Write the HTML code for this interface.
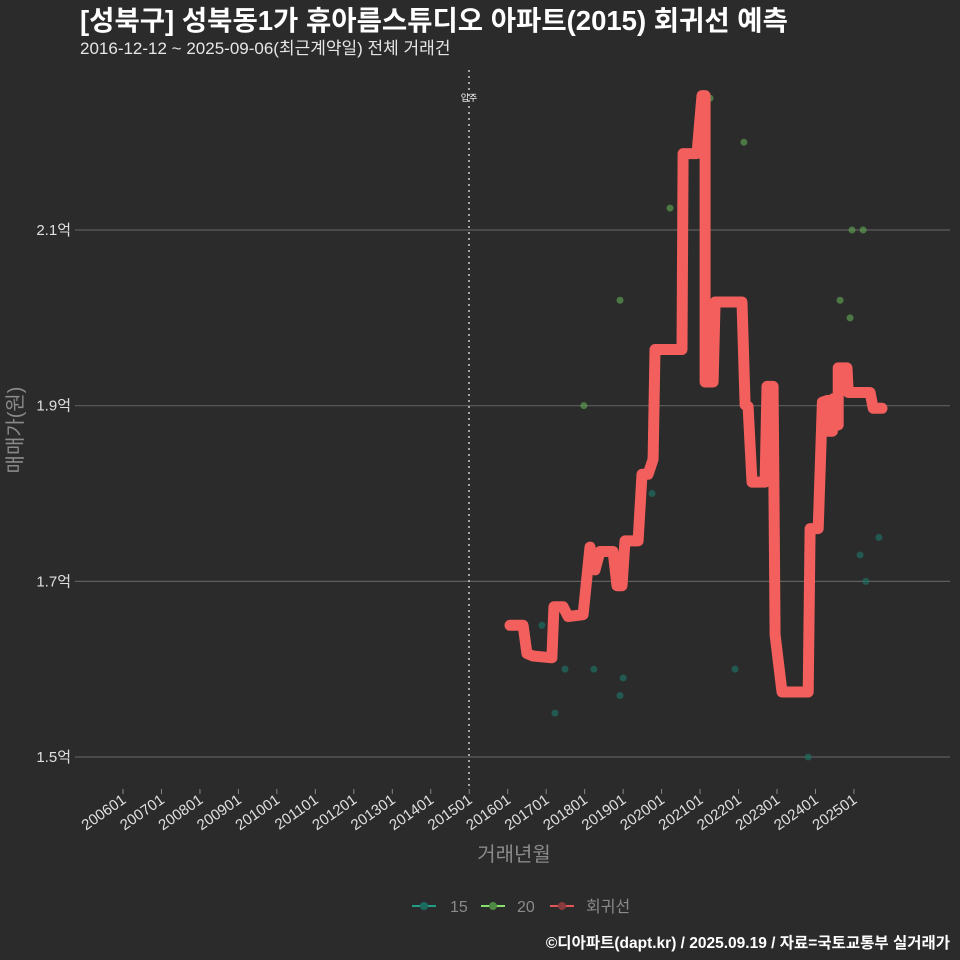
<!DOCTYPE html>
<html><head><meta charset="utf-8">
<style>
html,body{margin:0;padding:0;background:#2b2b2b;}
svg{display:block;font-family:"Liberation Sans","Noto Sans CJK KR",sans-serif;}
</style></head>
<body>
<svg id="chart" width="960" height="960" viewBox="0 0 960 960">
<rect width="960" height="960" fill="#2b2b2b"/>
<text x="80" y="30" fill="#ffffff" font-size="27.5" font-weight="bold">[성북구] 성북동1가 휴아름스튜디오 아파트(2015) 회귀선 예측</text>
<text x="80" y="54" fill="#e6e6e6" font-size="17">2016-12-12 ~ 2025-09-06(최근계약일) 전체 거래건</text>
<g id="grid"></g>
<g id="yaxis"></g>
<g id="xaxis"></g>
<line x1="469" y1="70" x2="469" y2="790" stroke="#cccccc" stroke-width="1.5" stroke-dasharray="2,4"/>
<text x="469" y="101" fill="#ffffff" font-size="9" text-anchor="middle">입주</text>
<g id="points"></g>
<g id="line"></g>
<text transform="translate(22,430) rotate(-90)" fill="#8a8a8a" font-size="20" text-anchor="middle">매매가(원)</text>
<text x="514" y="861" fill="#8a8a8a" font-size="20" text-anchor="middle">거래년월</text>
<g>
<g>
<line x1="412" y1="906" x2="436" y2="906" stroke="#1f9e89" stroke-width="2"/><circle cx="424" cy="906" r="4" fill="#1b6b5e"/>
<text x="450" y="912" fill="#8a8a8a" font-size="16">15</text></g>
<g>
<line x1="481" y1="906" x2="505" y2="906" stroke="#86e06e" stroke-width="2"/><circle cx="493" cy="906" r="4" fill="#4f8a45"/>
<text x="517" y="912" fill="#8a8a8a" font-size="16">20</text></g>
<g>
<line x1="550" y1="906" x2="574" y2="906" stroke="#e05555" stroke-width="2"/><circle cx="562" cy="906" r="4" fill="#8a3a3a"/>
<text x="586" y="912" fill="#8a8a8a" font-size="16">회귀선</text></g>
</g>
<text x="950" y="948" fill="#ffffff" font-size="15.5" font-weight="bold" text-anchor="end">©디아파트(dapt.kr) / 2025.09.19 / 자료=국토교통부 실거래가</text>
</svg>
<script>
const yTicks = [1.5, 1.7, 1.9, 2.1];
const xTickLabels = ["200601","200701","200801","200901","201001","201101","201201","201301","201401","201501","201601","201701","201801","201901","202001","202101","202201","202301","202401","202501"];
const lineDates = [2016.06,2016.40,2016.50,2016.66,2017.15,2017.20,2017.44,2017.57,2017.96,2018.14,2018.27,2018.40,2018.74,2018.84,2018.97,2019.05,2019.39,2019.49,2019.65,2019.78,2019.83,2020.53,2020.56,2020.92,2021.05,2021.13,2021.13,2021.34,2021.39,2022.09,2022.17,2022.25,2022.35,2022.69,2022.74,2022.90,2022.95,2023.13,2023.81,2023.86,2024.07,2024.18,2024.31,2024.33,2024.44,2024.46,2024.59,2024.59,2024.82,2024.85,2025.42,2025.50,2025.73];
const lineValues = [1.650,1.650,1.618,1.615,1.613,1.671,1.671,1.660,1.662,1.739,1.713,1.734,1.734,1.695,1.695,1.746,1.746,1.822,1.822,1.839,1.964,1.964,2.187,2.187,2.253,2.253,1.927,1.927,2.018,2.018,1.901,1.899,1.813,1.813,1.922,1.922,1.639,1.574,1.574,1.760,1.760,1.904,1.906,1.871,1.871,1.908,1.878,1.943,1.943,1.915,1.915,1.897,1.897];
const s20Dates = [2021.26,2022.14,2020.22,2018.92,2017.98,2024.95,2025.24,2024.64,2024.90];
const s20Values = [2.250,2.200,2.125,2.020,1.900,2.100,2.100,2.020,2.000];
const s15Dates = [2016.89,2017.49,2018.24,2017.23,2019.00,2018.92,2019.75,2021.91,2023.81,2025.16,2025.65,2025.31];
const s15Values = [1.650,1.600,1.600,1.550,1.590,1.570,1.800,1.600,1.500,1.730,1.750,1.700];

const NS = "http://www.w3.org/2000/svg";
function xs(d){ return 123 + (d - 2006) * 38.47; }
function ys(v){ return 757 - (v - 1.5) * 878.3; }
function mk(tag, attrs, parent){ const e=document.createElementNS(NS,tag); for(const k in attrs) e.setAttribute(k,attrs[k]); parent.appendChild(e); return e; }

const grid=document.getElementById('grid'), yax=document.getElementById('yaxis'), xax=document.getElementById('xaxis');
yTicks.forEach(v=>{
  const l=mk('line',{x1:75,x2:950,y1:ys(v),y2:ys(v),stroke:'#5e5e5e','stroke-width':1.2},grid);
  
  
  const t=mk('text',{x:71,y:ys(v)+5,fill:'#e0e0e0','font-size':15,'text-anchor':'end'},yax);
  t.textContent=v.toFixed(1)+'억';
  
  
});
xTickLabels.forEach(lab=>{
  const yr=parseInt(lab.slice(0,4)), m=parseInt(lab.slice(4));
  const x=xs(yr+(m-1)/12);
  const tk=mk('line',{x1:x,x2:x,y1:789,y2:794,stroke:'#888','stroke-width':1},xax);
  
  
  const t=mk('text',{x:x+4,y:802,fill:'#e0e0e0','font-size':15,'text-anchor':'end',transform:`rotate(-35 ${x+4} 802)`},xax);
  t.textContent=lab;
  
  
});
const pg=document.getElementById('points');
s15Dates.forEach((d,i)=>{
  const c=mk('circle',{cx:xs(d),cy:ys(s15Values[i]),r:3.5,fill:'#1f6e62','fill-opacity':0.7},pg);
  
  
});
s20Dates.forEach((d,i)=>{
  const c=mk('circle',{cx:xs(d),cy:ys(s20Values[i]),r:3.5,fill:'#5a9a4e','fill-opacity':0.7},pg);
  
  
});
const pts=lineDates.map((d,i)=>xs(d).toFixed(1)+','+ys(lineValues[i]).toFixed(1)).join(' ');
const pl=mk('polyline',{points:pts,fill:'none',stroke:'#f25f5c','stroke-width':11,'stroke-linejoin':'round','stroke-linecap':'round'},document.getElementById('line'));


</script>
</body></html>
